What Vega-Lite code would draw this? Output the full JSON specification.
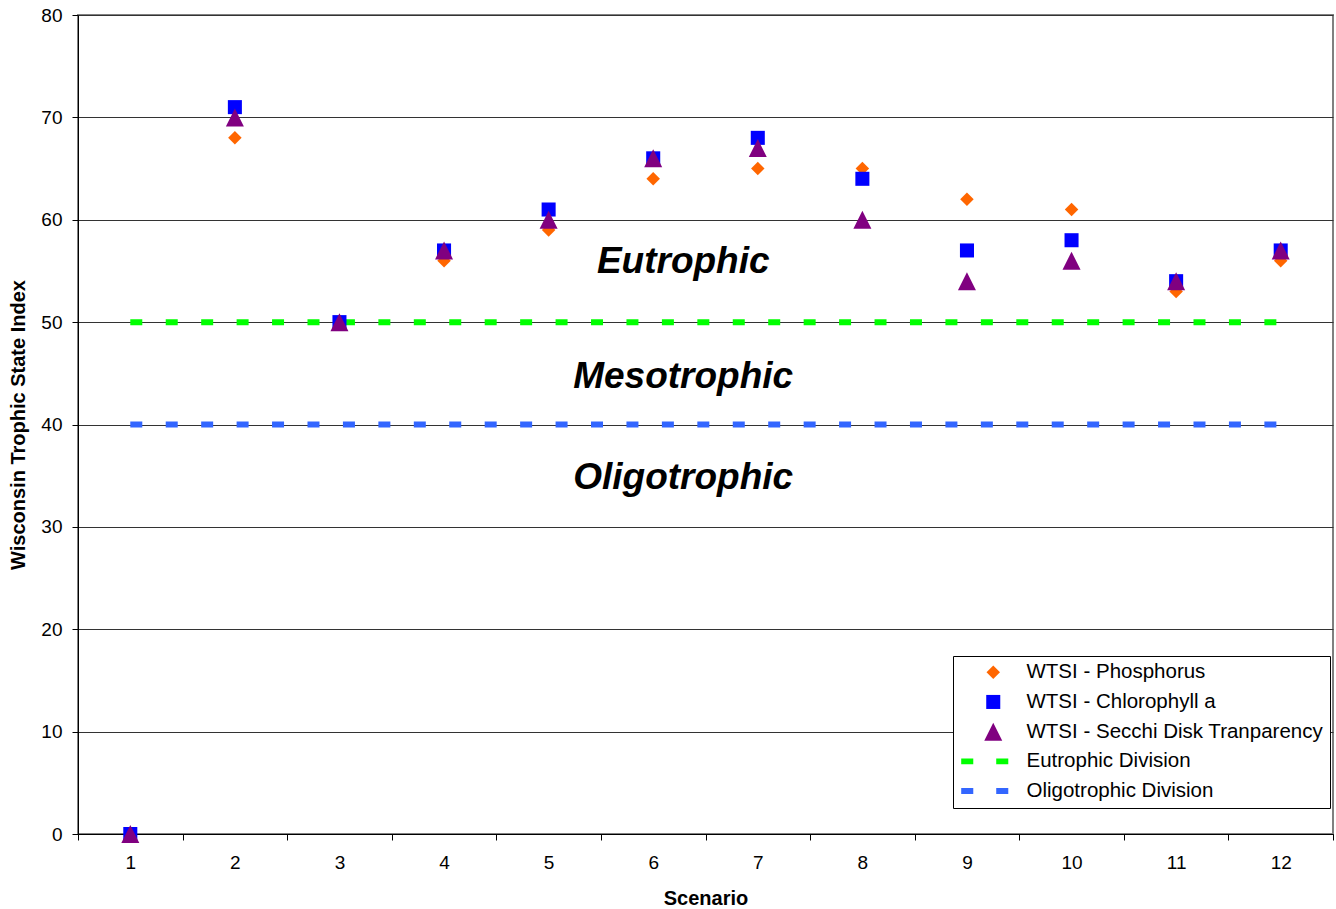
{
  "$schema": "https://vega.github.io/schema/vega-lite/v6.json",
  "width": 1255,
  "height": 819,
  "autosize": {"type": "none"},
  "padding": {"left": 78, "top": 15, "right": 3, "bottom": 75},
  "background": "white",
  "config": {
    "view": {"stroke": "#808080", "strokeWidth": 2},
    "font": "Liberation Sans"
  },
  "datasets": {
    "points": [
      {"Scenario": "1", "Series": "WTSI - Phosphorus", "WTSI": 0},
      {"Scenario": "2", "Series": "WTSI - Phosphorus", "WTSI": 68},
      {"Scenario": "3", "Series": "WTSI - Phosphorus", "WTSI": 50},
      {"Scenario": "4", "Series": "WTSI - Phosphorus", "WTSI": 56},
      {"Scenario": "5", "Series": "WTSI - Phosphorus", "WTSI": 59},
      {"Scenario": "6", "Series": "WTSI - Phosphorus", "WTSI": 64},
      {"Scenario": "7", "Series": "WTSI - Phosphorus", "WTSI": 65},
      {"Scenario": "8", "Series": "WTSI - Phosphorus", "WTSI": 65},
      {"Scenario": "9", "Series": "WTSI - Phosphorus", "WTSI": 62},
      {"Scenario": "10", "Series": "WTSI - Phosphorus", "WTSI": 61},
      {"Scenario": "11", "Series": "WTSI - Phosphorus", "WTSI": 53},
      {"Scenario": "12", "Series": "WTSI - Phosphorus", "WTSI": 56},
      {"Scenario": "1", "Series": "WTSI - Chlorophyll a", "WTSI": 0},
      {"Scenario": "2", "Series": "WTSI - Chlorophyll a", "WTSI": 71},
      {"Scenario": "3", "Series": "WTSI - Chlorophyll a", "WTSI": 50},
      {"Scenario": "4", "Series": "WTSI - Chlorophyll a", "WTSI": 57},
      {"Scenario": "5", "Series": "WTSI - Chlorophyll a", "WTSI": 61},
      {"Scenario": "6", "Series": "WTSI - Chlorophyll a", "WTSI": 66},
      {"Scenario": "7", "Series": "WTSI - Chlorophyll a", "WTSI": 68},
      {"Scenario": "8", "Series": "WTSI - Chlorophyll a", "WTSI": 64},
      {"Scenario": "9", "Series": "WTSI - Chlorophyll a", "WTSI": 57},
      {"Scenario": "10", "Series": "WTSI - Chlorophyll a", "WTSI": 58},
      {"Scenario": "11", "Series": "WTSI - Chlorophyll a", "WTSI": 54},
      {"Scenario": "12", "Series": "WTSI - Chlorophyll a", "WTSI": 57},
      {"Scenario": "1", "Series": "WTSI - Secchi Disk Tranparency", "WTSI": 0},
      {"Scenario": "2", "Series": "WTSI - Secchi Disk Tranparency", "WTSI": 70},
      {"Scenario": "3", "Series": "WTSI - Secchi Disk Tranparency", "WTSI": 50},
      {"Scenario": "4", "Series": "WTSI - Secchi Disk Tranparency", "WTSI": 57},
      {"Scenario": "5", "Series": "WTSI - Secchi Disk Tranparency", "WTSI": 60},
      {"Scenario": "6", "Series": "WTSI - Secchi Disk Tranparency", "WTSI": 66},
      {"Scenario": "7", "Series": "WTSI - Secchi Disk Tranparency", "WTSI": 67},
      {"Scenario": "8", "Series": "WTSI - Secchi Disk Tranparency", "WTSI": 60},
      {"Scenario": "9", "Series": "WTSI - Secchi Disk Tranparency", "WTSI": 54},
      {"Scenario": "10", "Series": "WTSI - Secchi Disk Tranparency", "WTSI": 56},
      {"Scenario": "11", "Series": "WTSI - Secchi Disk Tranparency", "WTSI": 54},
      {"Scenario": "12", "Series": "WTSI - Secchi Disk Tranparency", "WTSI": 57}
    ],
    "divisions": [
      {"Scenario": "1", "Division": "Eutrophic Division", "WTSI": 50},
      {"Scenario": "2", "Division": "Eutrophic Division", "WTSI": 50},
      {"Scenario": "3", "Division": "Eutrophic Division", "WTSI": 50},
      {"Scenario": "4", "Division": "Eutrophic Division", "WTSI": 50},
      {"Scenario": "5", "Division": "Eutrophic Division", "WTSI": 50},
      {"Scenario": "6", "Division": "Eutrophic Division", "WTSI": 50},
      {"Scenario": "7", "Division": "Eutrophic Division", "WTSI": 50},
      {"Scenario": "8", "Division": "Eutrophic Division", "WTSI": 50},
      {"Scenario": "9", "Division": "Eutrophic Division", "WTSI": 50},
      {"Scenario": "10", "Division": "Eutrophic Division", "WTSI": 50},
      {"Scenario": "11", "Division": "Eutrophic Division", "WTSI": 50},
      {"Scenario": "12", "Division": "Eutrophic Division", "WTSI": 50},
      {"Scenario": "1", "Division": "Oligotrophic Division", "WTSI": 40},
      {"Scenario": "2", "Division": "Oligotrophic Division", "WTSI": 40},
      {"Scenario": "3", "Division": "Oligotrophic Division", "WTSI": 40},
      {"Scenario": "4", "Division": "Oligotrophic Division", "WTSI": 40},
      {"Scenario": "5", "Division": "Oligotrophic Division", "WTSI": 40},
      {"Scenario": "6", "Division": "Oligotrophic Division", "WTSI": 40},
      {"Scenario": "7", "Division": "Oligotrophic Division", "WTSI": 40},
      {"Scenario": "8", "Division": "Oligotrophic Division", "WTSI": 40},
      {"Scenario": "9", "Division": "Oligotrophic Division", "WTSI": 40},
      {"Scenario": "10", "Division": "Oligotrophic Division", "WTSI": 40},
      {"Scenario": "11", "Division": "Oligotrophic Division", "WTSI": 40},
      {"Scenario": "12", "Division": "Oligotrophic Division", "WTSI": 40}
    ],
    "zones": [
      {"Scenario": "6", "Zone": "Eutrophic", "WTSI": 54.8},
      {"Scenario": "6", "Zone": "Mesotrophic", "WTSI": 43.6},
      {"Scenario": "6", "Zone": "Oligotrophic", "WTSI": 33.7}
    ]
  },
  "encoding": {
    "x": {
      "field": "Scenario",
      "type": "ordinal",
      "sort": ["1","2","3","4","5","6","7","8","9","10","11","12"],
      "scale": {"type": "band", "paddingInner": 0, "paddingOuter": 0},
      "axis": {
        "title": "Scenario",
        "labelAngle": 0,
        "tickBand": "extent",
        "domainColor": "black",
        "tickColor": "black",
        "tickSize": 6,
        "labelPadding": 13.5,
        "labelFontSize": 19,
        "labelColor": "black",
        "titleFontSize": 20,
        "titleFontWeight": "bold",
        "titleColor": "black",
        "titlePadding": 15.5
      }
    },
    "y": {
      "field": "WTSI",
      "type": "quantitative",
      "scale": {"domain": [0, 80], "nice": false},
      "axis": {
        "title": "Wisconsin Trophic State Index",
        "tickCount": 8,
        "grid": true,
        "gridColor": "#333333",
        "gridWidth": 1,
        "domainColor": "black",
        "tickColor": "black",
        "tickSize": 6,
        "labelPadding": 10,
        "labelFontSize": 19,
        "labelColor": "black",
        "titleFontSize": 20,
        "titleFontWeight": "bold",
        "titleColor": "black",
        "titlePadding": 12.5
      }
    }
  },
  "layer": [
    {
      "data": {"name": "divisions"},
      "transform": [{"filter": "datum.Division === 'Eutrophic Division'"}],
      "mark": {"type": "line", "color": "#00ff00", "strokeWidth": 6, "strokeDash": [12, 23.44], "strokeCap": "butt"},
      "encoding": {}
    },
    {
      "data": {"name": "divisions"},
      "transform": [{"filter": "datum.Division === 'Oligotrophic Division'"}],
      "mark": {"type": "line", "color": "#3366ff", "strokeWidth": 6, "strokeDash": [12, 23.44], "strokeCap": "butt"},
      "encoding": {}
    },
    {
      "data": {"name": "zones"},
      "mark": {"type": "text", "fontSize": 37, "fontWeight": "bold", "fontStyle": "italic", "font": "Liberation Sans", "color": "black", "baseline": "alphabetic", "align": "center", "dx": 30},
      "encoding": {"text": {"field": "Zone", "type": "nominal"}}
    },
    {
      "data": {"name": "points"},
      "mark": {"type": "point", "filled": true, "opacity": 1, "size": 324, "strokeWidth": 0},
      "encoding": {
        "color": {
          "field": "Series",
          "type": "nominal",
          "scale": {
            "domain": ["WTSI - Phosphorus", "WTSI - Chlorophyll a", "WTSI - Secchi Disk Tranparency", "Eutrophic Division", "Oligotrophic Division"],
            "range": ["#ff6600", "#0000ff", "#800080", "#00ff00", "#3366ff"]
          },
          "legend": {
            "title": null,
            "orient": "none",
            "legendX": 875,
            "legendY": 641,
            "fillColor": "white",
            "strokeColor": "black",
            "padding": 6,
            "symbolOffset": 24,
            "labelOffset": 23,
            "symbolSize": 324,
            "symbolStrokeWidth": 0,
            "labelFontSize": 20.5,
            "labelFont": "Liberation Sans",
            "labelColor": "black",
            "labelLimit": 400,
            "rowPadding": 8.7
          }
        },
        "shape": {
          "field": "Series",
          "type": "nominal",
          "scale": {
            "domain": ["WTSI - Phosphorus", "WTSI - Chlorophyll a", "WTSI - Secchi Disk Tranparency", "Eutrophic Division", "Oligotrophic Division"],
            "range": [
              "M0,-0.75L0.75,0L0,0.75L-0.75,0Z",
              "M-0.78,-0.78H0.78V0.78H-0.78Z",
              "M0,-1L1,1L-1,1Z",
              "M-3.56,-0.33H-2.22V0.33H-3.56Z M0.33,-0.33H1.67V0.33H0.33Z",
              "M-3.56,-0.33H-2.22V0.33H-3.56Z M0.33,-0.33H1.67V0.33H0.33Z"
            ]
          }
        }
      }
    }
  ]
}
